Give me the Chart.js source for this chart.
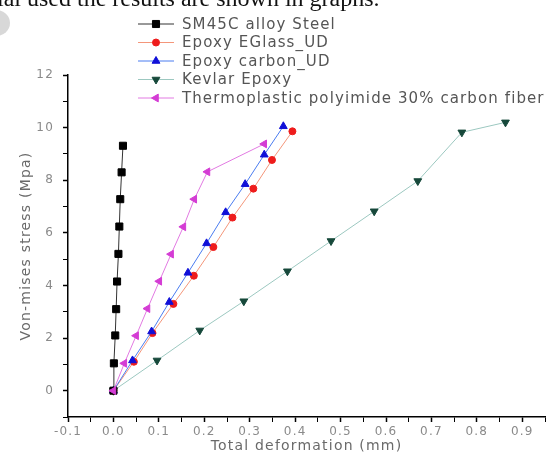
<!DOCTYPE html>
<html>
<head>
<meta charset="utf-8">
<script src="https://cdn.jsdelivr.net/npm/chart.js@4.4.1/dist/chart.umd.min.js"></script>
<style>
  html, body { margin: 0; padding: 0; background: #fff; }
  #wrap { position: relative; width: 551px; height: 463px; overflow: hidden; }
  #cut { position: absolute; left: -3px; top: -15px; font: 24px "Liberation Serif", serif; color: #111; white-space: nowrap; }
  #blob { position: absolute; left: -18px; top: 10px; width: 28px; height: 26px; border-radius: 50%; background: #d8d8d8; }
  canvas { position: absolute; left: 0; top: 0; }
</style>
</head>
<body>
<div id="wrap">
  <canvas id="chart" width="551" height="463"></canvas>
  <div id="blob"></div>
  <div id="cut">ial used the results are shown in graphs.</div>
</div>
<script>
const seriesNames = ['SM45C alloy Steel', 'Epoxy EGlass_UD', 'Epoxy carbon_UD', 'Kevlar Epoxy', 'Thermoplastic polyimide 30% carbon fiber'];

const steelX = [0, 0.001, 0.004, 0.006, 0.008, 0.011, 0.013, 0.015, 0.018, 0.021];
const steelY = [0, 1.04, 2.1, 3.1, 4.15, 5.2, 6.24, 7.28, 8.3, 9.31];
const eglassX = [0, 0.045, 0.086, 0.132, 0.177, 0.22, 0.262, 0.308, 0.349, 0.394];
const eglassY = [0, 1.1, 2.19, 3.3, 4.37, 5.46, 6.58, 7.68, 8.77, 9.86];
const carbonX = [0, 0.042, 0.084, 0.123, 0.164, 0.205, 0.247, 0.29, 0.332, 0.374];
const carbonY = [0, 1.15, 2.25, 3.37, 4.48, 5.6, 6.78, 7.85, 8.97, 10.05];
const kevlarX = [0, 0.096, 0.19, 0.287, 0.383, 0.479, 0.574, 0.67, 0.767, 0.863];
const kevlarY = [0, 1.15, 2.29, 3.4, 4.54, 5.69, 6.82, 7.97, 9.82, 10.2];
const polyX = [0, 0.024, 0.05, 0.075, 0.101, 0.127, 0.154, 0.178, 0.207, 0.332];
const polyY = [0, 1.04, 2.09, 3.12, 4.16, 5.19, 6.23, 7.28, 8.32, 9.38];

const xMin = -0.1, xMax = 0.95, yMin = -1, yMax = 12;

const pts = (xs, ys) => xs.map((x, i) => ({ x, y: ys[i] }));
const isMajorX = (v) => Math.abs(Math.round(v * 20)) % 2 === 0;
const tickFont = { family: '"DejaVu Sans", sans-serif', size: 12 };
const titleFont = { family: '"DejaVu Sans", sans-serif', size: 14 };

function ds(label, data, line, marker, style, radius, rotation, order) {
  return {
    label, data,
    borderColor: line, backgroundColor: marker,
    borderWidth: 1,
    pointStyle: style, pointRadius: radius, pointRotation: rotation,
    pointBackgroundColor: marker, pointBorderColor: marker, pointBorderWidth: 1,
    pointHoverRadius: radius,
    order,
  };
}

// the original's font is wide, spread the letters a bit
const spacingPlugin = {
  id: 'spacing',
  beforeDraw(chart) { chart.ctx.letterSpacing = '1.2px'; },
};

// legend drawn by hand so it can sit over the top of the plot like the original
const legendPlugin = {
  id: 'oldLegend',
  afterDraw(chart) {
    const ctx = chart.ctx;
    ctx.save();
    ctx.font = '15px "DejaVu Sans", sans-serif';
    ctx.letterSpacing = '1.1px';
    ctx.textBaseline = 'middle';
    chart.data.datasets.forEach((d, i) => {
      const y = 24 + i * 18.5;
      ctx.strokeStyle = d.borderColor;
      ctx.lineWidth = 1;
      ctx.beginPath();
      ctx.moveTo(138, y);
      ctx.lineTo(174, y);
      ctx.stroke();
      ctx.fillStyle = d.pointBackgroundColor;
      ctx.strokeStyle = d.pointBorderColor;
      Chart.helpers.drawPoint(ctx, { pointStyle: d.pointStyle, radius: d.pointRadius, rotation: d.pointRotation, borderWidth: 1 }, 156, y);
      ctx.fillStyle = '#555';
      ctx.fillText(d.label, 182, y + 1);
    });
    ctx.restore();
  }
};

new Chart(document.getElementById('chart'), {
  type: 'line',
  data: {
    datasets: [
      ds(seriesNames[0], pts(steelX, steelY), '#333', '#000', 'rect', 5, 0, 1),
      ds(seriesNames[1], pts(eglassX, eglassY), '#f4967a', '#ee1c1c', 'circle', 3.5, 0, 3),
      ds(seriesNames[2], pts(carbonX, carbonY), '#4a7cf0', '#1010d8', 'triangle', 4.5, 0, 2),
      ds(seriesNames[3], pts(kevlarX, kevlarY), '#9cc8c0', '#16483a', 'triangle', 4.5, 180, 4),
      ds(seriesNames[4], pts(polyX, polyY), '#e27ae2', '#d43cd4', 'triangle', 4.5, 270, 0),
    ]
  },
  options: {
    responsive: false,
    animation: false,
    events: [],
    layout: { padding: { top: 75, right: 3, left: 0, bottom: 0 } },
    plugins: { legend: { display: false }, tooltip: { enabled: false } },
    scales: {
      x: {
        type: 'linear', min: xMin, max: xMax,
        afterFit: (s) => { s.height = 46; },
        border: { display: true, color: '#000', width: 1.5 },
        grid: {
          drawOnChartArea: false, drawTicks: true, tickLength: 5,
          tickColor: '#000',
          tickWidth: (c) => (c.tick && isMajorX(c.tick.value) ? 1.5 : 1),
        },
        ticks: {
          stepSize: 0.05, autoSkip: false, maxRotation: 0, padding: 3,
          color: '#8a8a8a', font: tickFont,
          callback: (v) => (isMajorX(v) ? v.toFixed(1) : ''),
        },
        title: { display: true, text: 'Total deformation (mm)', color: '#6a6a6a', font: titleFont, padding: { top: 0, bottom: 8 } },
      },
      y: {
        type: 'linear', min: yMin, max: yMax,
        afterFit: (s) => { s.width = 68; },
        border: { display: true, color: '#000', width: 1.5 },
        grid: {
          drawOnChartArea: false, drawTicks: true, tickLength: 5,
          tickColor: '#000',
          tickWidth: (c) => (c.tick && c.tick.value % 2 === 0 ? 1.5 : 1),
        },
        ticks: {
          stepSize: 1, autoSkip: false, padding: 9,
          color: '#8a8a8a', font: tickFont,
          callback: (v) => (v >= 0 && v % 2 === 0 ? String(v) : ''),
        },
        title: { display: true, text: 'Von-mises stress (Mpa)', color: '#6a6a6a', font: titleFont, padding: { top: 18, bottom: 0 } },
      }
    }
  },
  plugins: [spacingPlugin, legendPlugin]
});
</script>
</body>
</html>
